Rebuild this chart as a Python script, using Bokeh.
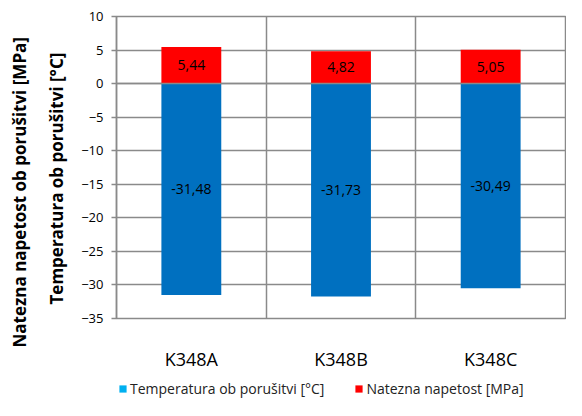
from bokeh.plotting import figure
from bokeh.layouts import column
from bokeh.models import (Range1d, FixedTicker, Span, Title, Legend, LegendItem,
                          ColumnDataSource)
from bokeh.embed import file_html
from bokeh.resources import INLINE
from bokeh.core.properties import value

categories = ["K348A", "K348B", "K348C"]
temperature = [-31.48, -31.73, -30.49]   # Temperatura ob porušitvi [°C]
tension = [5.44, 4.82, 5.05]             # Natezna napetost [MPa]
y_ticks = [-35, -30, -25, -20, -15, -10, -5, 0, 5, 10]
legend_labels = ["Temperatura ob porušitvi [°C]", "Natezna napetost [MPa]"]
legend_colors = ["#00B0F0", "#FF0000"]

FONT = "Open Sans"
GRID = "#8a8a8a"

x_pos = [i + 0.5 for i in range(len(categories))]

p = figure(width=566, height=374, output_backend="svg", toolbar_location=None,
           x_range=Range1d(0, len(categories)), y_range=Range1d(-35, 10),
           min_border_left=116, min_border_right=1, min_border_top=16,
           min_border_bottom=56)
p.title = None
p.outline_line_color = GRID
p.outline_line_width = 1.5
p.background_fill_color = "white"
p.border_fill_color = "white"

src = ColumnDataSource(dict(
    x=x_pos, temp=temperature, ten=tension,
    temp_mid=[t / 2 for t in temperature], ten_mid=[t / 2 for t in tension],
    temp_lbl=[f"{t:.2f}".replace(".", ",") for t in temperature],
    ten_lbl=[f"{t:.2f}".replace(".", ",") for t in tension]))

p.vbar(x="x", top=0, bottom="temp", width=0.4, fill_color="#0070C0",
       line_color=None, source=src)
p.vbar(x="x", top="ten", bottom=0, width=0.4, fill_color="#FF0000",
       line_color=None, source=src)

p.add_layout(Span(location=0, dimension="width", line_color=GRID, line_width=1.5))

p.text(x="x", y="temp_mid", text="temp_lbl", source=src, text_align="center",
       text_baseline="middle", text_font=value(FONT), text_font_size="14px",
       text_color="black")
p.text(x="x", y="ten_mid", text="ten_lbl", source=src, text_align="center",
       text_baseline="middle", text_font=value(FONT), text_font_size="14px",
       text_color="black")

# grids
p.ygrid.ticker = FixedTicker(ticks=y_ticks)
p.ygrid.grid_line_color = GRID
p.ygrid.grid_line_width = 1.5
p.xgrid.ticker = FixedTicker(ticks=list(range(1, len(categories))))
p.xgrid.grid_line_color = GRID
p.xgrid.grid_line_width = 1.5

# y axis
ya = p.yaxis[0]
ya.ticker = FixedTicker(ticks=y_ticks)
ya.axis_line_color = GRID
ya.axis_line_width = 1.5
ya.major_tick_line_color = GRID
ya.major_tick_line_width = 1.5
ya.major_tick_out = 5
ya.major_tick_in = 0
ya.minor_tick_line_color = None
ya.major_label_text_font = FONT
ya.major_label_text_font_size = "13px"
ya.major_label_text_color = "black"
ya.major_label_standoff = 8

# two-line y title (inner line first)
p.add_layout(Title(text="Temperatura ob porušitvi [°C]", align="left", offset=14,
                   text_font=FONT, text_font_size="17px", text_font_style="bold",
                   text_color="black", standoff=22), "left")
p.add_layout(Title(text="Natezna napetost ob porušitvi [MPa]", align="left", offset=-29,
                   text_font=FONT, text_font_size="17px", text_font_style="bold",
                   text_color="black", standoff=2), "left")

# x axis
xa = p.xaxis[0]
xa.ticker = FixedTicker(ticks=x_pos)
xa.major_label_overrides = {x: c for x, c in zip(x_pos, categories)}
xa.axis_line_color = None
xa.major_tick_line_color = None
xa.minor_tick_line_color = None
xa.major_label_text_font = FONT
xa.major_label_text_font_size = "18px"
xa.major_label_text_color = "black"
xa.major_label_standoff = 22

# legend strip below the chart (swatch renderers are hidden, only the legend shows)
pl = figure(width=566, height=26, output_backend="svg", toolbar_location=None,
            x_range=Range1d(0, 1), y_range=Range1d(0, 1),
            x_axis_location=None, y_axis_location=None,
            min_border=0, outline_line_color=None)
pl.title = None
pl.xgrid.visible = False
pl.ygrid.visible = False
items = []
for lbl, col, vals in zip(legend_labels, legend_colors, [temperature, tension]):
    r = pl.vbar(x=x_pos[:1], top=vals[:1], bottom=vals[:1], width=0.4,
                fill_color=col, line_color=None)
    r.visible = False
    items.append(LegendItem(label=lbl, renderers=[r]))
legend = Legend(items=items, orientation="horizontal", location=(2, 2),
                label_text_font=FONT, label_text_font_size="14px",
                label_text_color="#222222", glyph_width=9, glyph_height=9,
                label_standoff=3, spacing=30, border_line_color=None,
                background_fill_alpha=0, margin=0, padding=0, label_height=16,
                inactive_fill_alpha=0)
pl.add_layout(legend, "center")

layout = column(p, pl, spacing=0)
open("out.html", "w").write(file_html(layout, INLINE))
